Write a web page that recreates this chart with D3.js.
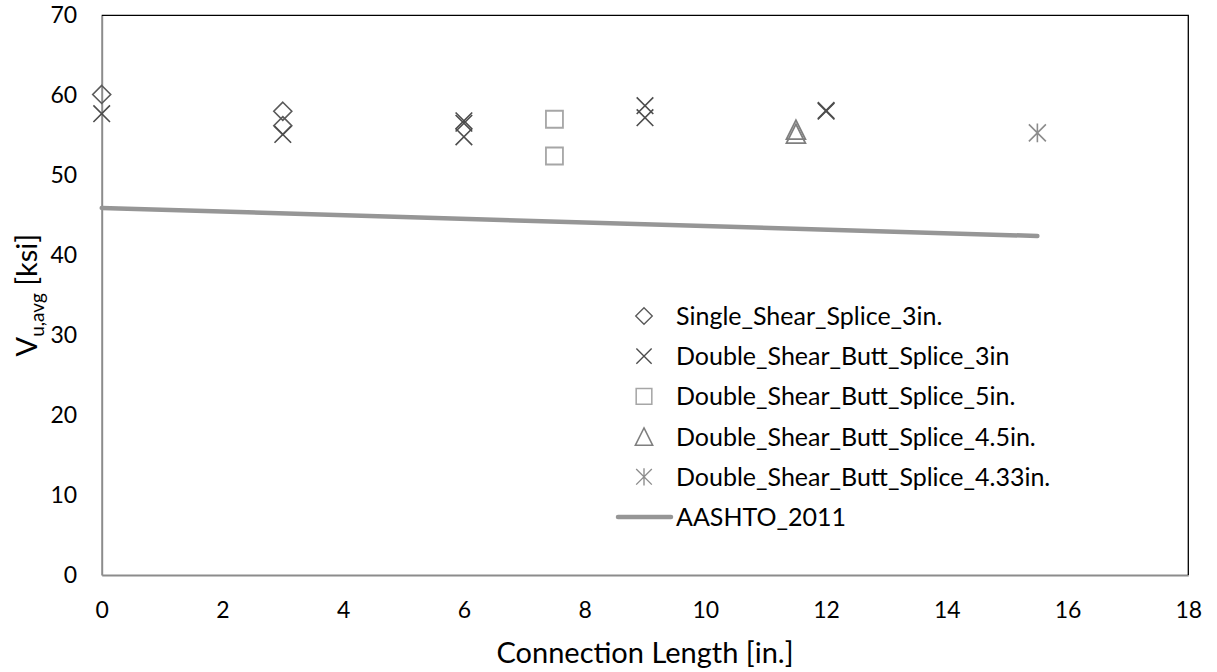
<!DOCTYPE html>
<html>
<head>
<meta charset="utf-8">
<script src="https://cdn.jsdelivr.net/npm/d3@7"></script>
<style>
  html, body { margin: 0; padding: 0; background: #fff; }
  svg { display: block; font-family: Lato, "Open Sans", sans-serif; }
</style>
</head>
<body>
<svg id="chart" width="1217" height="672"></svg>
<script>
// ---------- data ----------
const xTicks = [0, 2, 4, 6, 8, 10, 12, 14, 16, 18];
const yTicks = [0, 10, 20, 30, 40, 50, 60, 70];

const singleShear3 = [[0, 60.1], [3, 58.0], [3, 56.2]];
const doubleButt3 = [[0, 57.7], [3, 55.1], [6, 56.8], [6, 56.5], [6, 54.8], [9, 58.7], [9, 57.2], [12, 58.0], [12, 58.1]];
const doubleButt5 = [[7.5, 57.0], [7.5, 52.4]];
const doubleButt45 = [[11.5, 55.7], [11.5, 55.2]];
const doubleButt433 = [[15.5, 55.3]];
const aashto2011 = [[0, 45.9], [15.5, 42.4]];

const seriesNames = [
  "Single_Shear_Splice_3in.",
  "Double_Shear_Butt_Splice_3in",
  "Double_Shear_Butt_Splice_5in.",
  "Double_Shear_Butt_Splice_4.5in.",
  "Double_Shear_Butt_Splice_4.33in.",
  "AASHTO_2011"
];

// ---------- layout ----------
const svg = d3.select("#chart");
const L = 101.7, R = 1188.3, T = 15.3, B = 575;
const x = d3.scaleLinear().domain([0, 18]).range([L, R]);
const y = d3.scaleLinear().domain([0, 70]).range([B, T]);

// marker shapes (path generators centred at 0,0)
const shapes = {
  diamond: s => `M0,${-s}L${s},0L0,${s}L${-s},0Z`,
  cross: s => `M${-s},${-s}L${s},${s}M${-s},${s}L${s},${-s}`,
  square: s => `M${-s},${-s}H${s}V${s}H${-s}Z`,
  triangle: s => `M0,${-s * 1.05}L${s * 1.05},${s * 1.05}L${-s * 1.05},${s * 1.05}Z`,
  star: s => `M${-s},${-s}L${s},${s}M${-s},${s}L${s},${-s}M0,${-s * 1.1}L0,${s * 1.1}`
};

const markerSeries = [
  { data: singleShear3, shape: "diamond", size: 9, color: "#595959", width: 1.6 },
  { data: doubleButt3, shape: "cross", size: 8.3, color: "#4d4d4d", width: 1.6 },
  { data: doubleButt5, shape: "square", size: 8.5, color: "#a6a6a6", width: 1.8 },
  { data: doubleButt45, shape: "triangle", size: 9, color: "#7f7f7f", width: 1.8 },
  { data: doubleButt433, shape: "star", size: 8.5, color: "#8c8c8c", width: 1.6 }
];

// ---------- axes ----------
const xAxis = svg.append("g")
  .attr("transform", `translate(0,${B})`)
  .call(d3.axisBottom(x).tickValues(xTicks).tickSize(0).tickPadding(26.5).tickFormat(d3.format("d")));
xAxis.select(".domain").attr("stroke", "#8c8c8c").attr("stroke-width", 2);
xAxis.selectAll("text").attr("font-size", 23).attr("fill", "#000").attr("font-family", "Lato, sans-serif");

const yAxis = svg.append("g")
  .attr("transform", `translate(${L},0)`)
  .call(d3.axisLeft(y).tickValues(yTicks).tickSize(0).tickPadding(24.5).tickFormat(d3.format("d")));
yAxis.select(".domain").attr("stroke", "#8c8c8c").attr("stroke-width", 2);
yAxis.selectAll("text").attr("font-size", 23).attr("fill", "#000").attr("font-family", "Lato, sans-serif");

// top & right border
svg.append("path")
  .attr("d", `M${L},${T}H${R}V${B}`)
  .attr("fill", "none").attr("stroke", "#000").attr("stroke-width", 1.3);

// ---------- AASHTO line ----------
const line = d3.line().x(d => x(d[0])).y(d => y(d[1]));
svg.append("path")
  .datum(aashto2011)
  .attr("d", line)
  .attr("fill", "none").attr("stroke", "#969696").attr("stroke-width", 4.5)
  .attr("stroke-linecap", "round");

// ---------- markers ----------
markerSeries.forEach(s => {
  svg.append("g").selectAll("path")
    .data(s.data).join("path")
    .attr("transform", d => `translate(${x(d[0])},${y(d[1])})`)
    .attr("d", shapes[s.shape](s.size))
    .attr("fill", "none").attr("stroke", s.color).attr("stroke-width", s.width);
});

// ---------- legend ----------
const legX = 644, legTextX = 676, legY0 = 316, legDy = 40.2;
const legend = svg.append("g");
seriesNames.forEach((name, i) => {
  const cy = legY0 + i * legDy;
  if (i < markerSeries.length) {
    const s = markerSeries[i];
    legend.append("path")
      .attr("transform", `translate(${legX},${cy})`)
      .attr("d", shapes[s.shape](s.size * 0.92))
      .attr("fill", "none").attr("stroke", s.color).attr("stroke-width", s.width * 0.85);
  } else {
    legend.append("line")
      .attr("x1", 618).attr("x2", 671).attr("y1", cy).attr("y2", cy)
      .attr("stroke", "#969696").attr("stroke-width", 4.5).attr("stroke-linecap", "round");
  }
  legend.append("text")
    .attr("x", legTextX).attr("y", cy).attr("dy", "0.36em")
    .attr("font-size", 25).attr("fill", "#000")
    .text(name);
});

// ---------- axis titles ----------
svg.append("text")
  .attr("x", (L + R) / 2).attr("y", 663)
  .attr("text-anchor", "middle").attr("font-size", 29).attr("fill", "#000")
  .text("Connection Length [in.]");

const yt = svg.append("text")
  .attr("transform", `translate(37,${(T + B) / 2}) rotate(-90)`)
  .attr("text-anchor", "middle").attr("font-size", 29).attr("fill", "#000");
yt.append("tspan").text("V");
yt.append("tspan").attr("font-size", 19).attr("dy", 7).text("u,avg");
yt.append("tspan").attr("dy", -7).text(" [ksi]");
</script>
</body>
</html>
